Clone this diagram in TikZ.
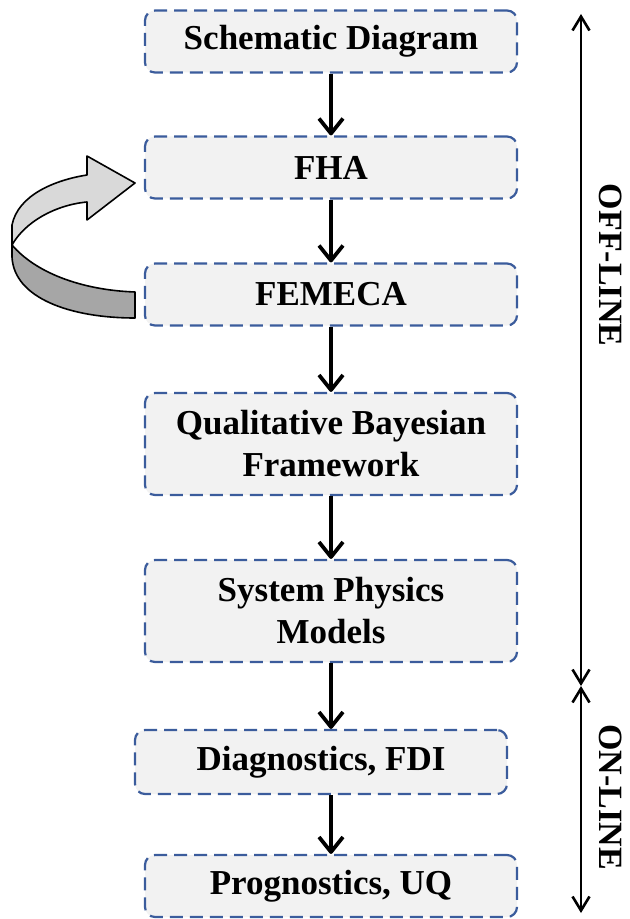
\documentclass[tikz,border=0pt]{standalone}
\usepackage{fontspec}
\setmainfont{Liberation Serif}
\usepackage{xcolor}
\usetikzlibrary{arrows.meta, positioning, calc}
\definecolor{stageEdge}{HTML}{3B5C9C}
\definecolor{stageFill}{HTML}{F2F2F2}
\definecolor{loopLight}{HTML}{D9D9D9}
\definecolor{loopDark}{HTML}{A6A6A6}

\begin{document}
\begin{tikzpicture}[x=0.5pt,y=-0.5pt,
  stage/.style={draw=stageEdge,fill=stageFill,line width=1.1pt,dash pattern=on 6.5pt off 3.5pt,
    rounded corners=5pt,minimum width=186pt,minimum height=31pt,align=center,
    font=\fontsize{17.5}{21}\selectfont\bfseries},
  flow/.style={black,line width=1.9pt,-{Straight Barb[length=7.5pt,width=12pt,line join=round]}},
  phase/.style={black,line width=1.3pt,{Straight Barb[length=7pt,width=8.5pt]}-{Straight Barb[length=7pt,width=8.5pt]}},
  phasetext/.style={rotate=-90,font=\fontsize{17}{20}\selectfont\bfseries}]
\useasboundingbox (0,0) rectangle (629,919);
% stages
\node[stage] (schematic) at (331,41.5) {Schematic Diagram};
\node[stage] (fha) at (331,167.5) {FHA};
\node[stage] (femeca) at (331,294.5) {FEMECA};
\node[stage,minimum height=51pt] (qbf) at (331,444) {Qualitative Bayesian\\Framework};
\node[stage,minimum height=51pt] (physics) at (331,611) {System Physics\\Models};
\node[stage,minimum height=32pt] (diag) at (321,762) {Diagnostics, FDI};
\node[stage] (prog) at (331,886) {Prognostics, UQ};
% flow arrows
\draw[flow] (schematic) -- (fha);
\draw[flow] (fha) -- (femeca);
\draw[flow] (femeca) -- (qbf);
\draw[flow] (qbf) -- (physics);
\draw[flow] (physics.south) -- (physics.south |- diag.north);
\draw[flow] (physics.south |- diag.south) -- (physics.south |- prog.north);
% feedback ribbon from FEMECA back to FHA
\draw[fill=loopLight,line width=0.8pt,line join=round]
  (87,175) .. controls (55,180) and (18,195) .. (12,225) -- (12,245)
  .. controls (25,222) and (55,205) .. (87,202) -- (87,220) -- (135,183) -- (87,156) -- cycle;
\draw[fill=loopDark,line width=0.8pt,line join=round]
  (12,245) .. controls (35,272) and (80,290) .. (135,292) -- (135,318)
  .. controls (70,318) and (14,298) .. (12,257) -- cycle;
% off-line / on-line span
\coordinate (offtop) at (581,14);
\coordinate (split) at (581,686);
\coordinate (onbot) at (581,913);
\draw[phase] (offtop) -- (split);
\draw[phase] (split) -- (onbot);
\node[phasetext] (offline) at (611,265) {OFF-LINE};
\node[phasetext] (online) at (611,797) {ON-LINE};
\end{tikzpicture}
\end{document}
